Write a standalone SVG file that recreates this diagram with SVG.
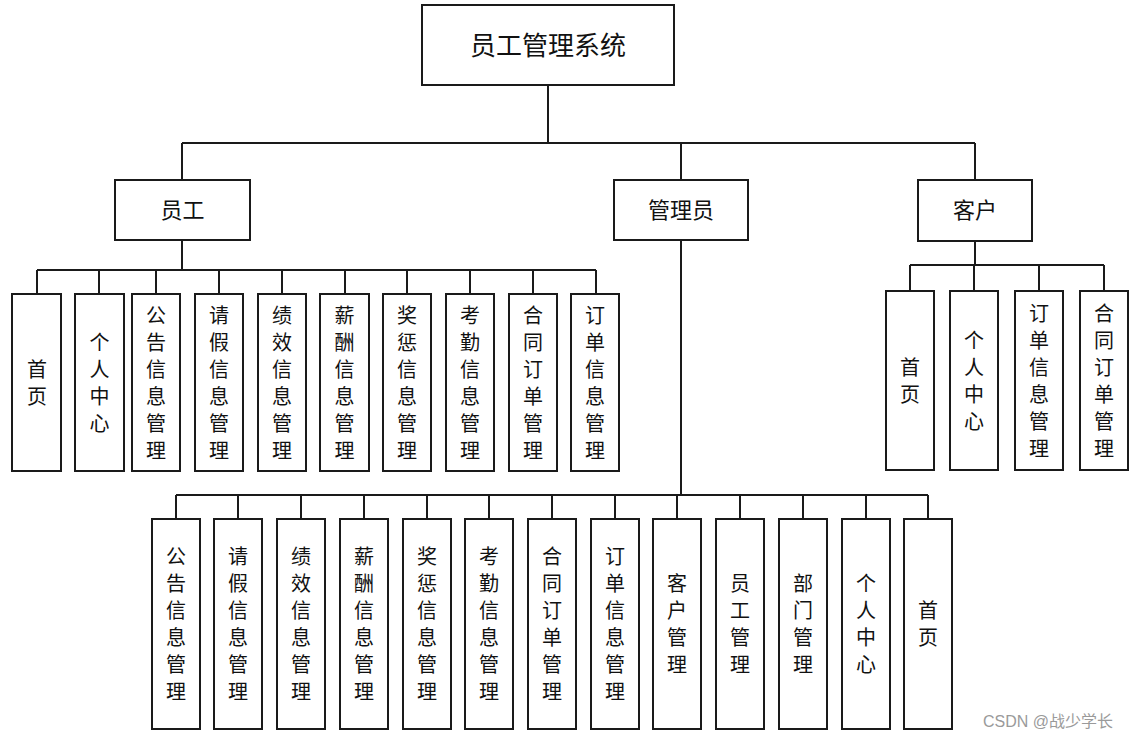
<svg xmlns="http://www.w3.org/2000/svg" width="1135" height="738" viewBox="0 0 1135 738">
<style>
  .box { fill: #ffffff; stroke: #1a1a1a; stroke-width: 2; }
  .conn { fill: none; stroke: #1a1a1a; stroke-width: 2; }
  text { font-family: "Noto Sans CJK SC", "Noto Sans", sans-serif; fill: #111111; text-anchor: middle; }
  .t0 { font-size: 26px; }
  .t1 { font-size: 22px; }
  .leaf { font-size: 20px; }
  .wm { font-family: "Liberation Sans", "Noto Sans CJK SC", sans-serif; font-size: 16px; fill: #9a9a9a; text-anchor: start; }
</style>
<rect width="1135" height="738" fill="#ffffff"/>
<g id="connectors">
  <path class="conn" d="M548 85 V143 M182 143 H975 M182 143 V180 M681 143 V180 M975 143 V180"/>
  <path class="conn" d="M182 240 V270 M37 270 H596 M37 270 V294 M99 270 V294 M156 270 V294 M219 270 V294 M282 270 V294 M345 270 V294 M407 270 V294 M470 270 V294 M533 270 V294 M596 270 V294"/>
  <path class="conn" d="M681 240 V495 M176 495 H928 M176 495 V519 M238 495 V519 M301 495 V519 M364 495 V519 M427 495 V519 M489 495 V519 M552 495 V519 M615 495 V519 M677 495 V519 M740 495 V519 M803 495 V519 M866 495 V519 M928 495 V519"/>
  <path class="conn" d="M975 241 V265 M910 265 H1104 M910 265 V291 M974 265 V291 M1039 265 V291 M1104 265 V291"/>
</g>
<g id="root"><rect class="box" x="422" y="5" width="252" height="80"/><text class="t0" x="548" y="55">员工管理系统</text></g>
<g id="employee"><rect class="box" x="115" y="180" width="135" height="60"/><text class="t1" x="182.5" y="218">员工</text></g>
<g id="admin"><rect class="box" x="614" y="180" width="134" height="60"/><text class="t1" x="681" y="218">管理员</text></g>
<g id="customer"><rect class="box" x="918" y="180" width="114" height="61"/><text class="t1" x="975" y="218">客户</text></g>

<g id="e1"><rect class="box" x="12" y="294" width="49" height="177"/><text class="leaf" x="37" y="376.5">首<tspan x="37" dy="27">页</tspan></text></g>
<g id="e2"><rect class="box" x="75" y="294" width="49" height="177"/><text class="leaf" x="99.5" y="349.5">个<tspan x="99.5" dy="27">人</tspan><tspan x="99.5" dy="27">中</tspan><tspan x="99.5" dy="27">心</tspan></text></g>
<g id="e3"><rect class="box" x="132" y="294" width="48" height="177"/><text class="leaf" x="156" y="322.5">公<tspan x="156" dy="27">告</tspan><tspan x="156" dy="27">信</tspan><tspan x="156" dy="27">息</tspan><tspan x="156" dy="27">管</tspan><tspan x="156" dy="27">理</tspan></text></g>
<g id="e4"><rect class="box" x="195" y="294" width="48" height="177"/><text class="leaf" x="219" y="322.5">请<tspan x="219" dy="27">假</tspan><tspan x="219" dy="27">信</tspan><tspan x="219" dy="27">息</tspan><tspan x="219" dy="27">管</tspan><tspan x="219" dy="27">理</tspan></text></g>
<g id="e5"><rect class="box" x="258" y="294" width="48" height="177"/><text class="leaf" x="282" y="322.5">绩<tspan x="282" dy="27">效</tspan><tspan x="282" dy="27">信</tspan><tspan x="282" dy="27">息</tspan><tspan x="282" dy="27">管</tspan><tspan x="282" dy="27">理</tspan></text></g>
<g id="e6"><rect class="box" x="320" y="294" width="49" height="177"/><text class="leaf" x="344.5" y="322.5">薪<tspan x="344.5" dy="27">酬</tspan><tspan x="344.5" dy="27">信</tspan><tspan x="344.5" dy="27">息</tspan><tspan x="344.5" dy="27">管</tspan><tspan x="344.5" dy="27">理</tspan></text></g>
<g id="e7"><rect class="box" x="383" y="294" width="48" height="177"/><text class="leaf" x="407" y="322.5">奖<tspan x="407" dy="27">惩</tspan><tspan x="407" dy="27">信</tspan><tspan x="407" dy="27">息</tspan><tspan x="407" dy="27">管</tspan><tspan x="407" dy="27">理</tspan></text></g>
<g id="e8"><rect class="box" x="446" y="294" width="48" height="177"/><text class="leaf" x="470" y="322.5">考<tspan x="470" dy="27">勤</tspan><tspan x="470" dy="27">信</tspan><tspan x="470" dy="27">息</tspan><tspan x="470" dy="27">管</tspan><tspan x="470" dy="27">理</tspan></text></g>
<g id="e9"><rect class="box" x="509" y="294" width="48" height="177"/><text class="leaf" x="533" y="322.5">合<tspan x="533" dy="27">同</tspan><tspan x="533" dy="27">订</tspan><tspan x="533" dy="27">单</tspan><tspan x="533" dy="27">管</tspan><tspan x="533" dy="27">理</tspan></text></g>
<g id="e10"><rect class="box" x="571" y="294" width="48" height="177"/><text class="leaf" x="595" y="322.5">订<tspan x="595" dy="27">单</tspan><tspan x="595" dy="27">信</tspan><tspan x="595" dy="27">息</tspan><tspan x="595" dy="27">管</tspan><tspan x="595" dy="27">理</tspan></text></g>

<g id="c1"><rect class="box" x="886" y="291" width="48" height="179"/><text class="leaf" x="910" y="374.5">首<tspan x="910" dy="27">页</tspan></text></g>
<g id="c2"><rect class="box" x="950" y="291" width="48" height="179"/><text class="leaf" x="974" y="347.5">个<tspan x="974" dy="27">人</tspan><tspan x="974" dy="27">中</tspan><tspan x="974" dy="27">心</tspan></text></g>
<g id="c3"><rect class="box" x="1015" y="291" width="48" height="179"/><text class="leaf" x="1039" y="320.5">订<tspan x="1039" dy="27">单</tspan><tspan x="1039" dy="27">信</tspan><tspan x="1039" dy="27">息</tspan><tspan x="1039" dy="27">管</tspan><tspan x="1039" dy="27">理</tspan></text></g>
<g id="c4"><rect class="box" x="1080" y="291" width="48" height="179"/><text class="leaf" x="1104" y="320.5">合<tspan x="1104" dy="27">同</tspan><tspan x="1104" dy="27">订</tspan><tspan x="1104" dy="27">单</tspan><tspan x="1104" dy="27">管</tspan><tspan x="1104" dy="27">理</tspan></text></g>

<g id="a1"><rect class="box" x="152" y="519" width="48" height="210"/><text class="leaf" x="176" y="564">公<tspan x="176" dy="27">告</tspan><tspan x="176" dy="27">信</tspan><tspan x="176" dy="27">息</tspan><tspan x="176" dy="27">管</tspan><tspan x="176" dy="27">理</tspan></text></g>
<g id="a2"><rect class="box" x="214" y="519" width="48" height="210"/><text class="leaf" x="238" y="564">请<tspan x="238" dy="27">假</tspan><tspan x="238" dy="27">信</tspan><tspan x="238" dy="27">息</tspan><tspan x="238" dy="27">管</tspan><tspan x="238" dy="27">理</tspan></text></g>
<g id="a3"><rect class="box" x="277" y="519" width="48" height="210"/><text class="leaf" x="301" y="564">绩<tspan x="301" dy="27">效</tspan><tspan x="301" dy="27">信</tspan><tspan x="301" dy="27">息</tspan><tspan x="301" dy="27">管</tspan><tspan x="301" dy="27">理</tspan></text></g>
<g id="a4"><rect class="box" x="340" y="519" width="48" height="210"/><text class="leaf" x="364" y="564">薪<tspan x="364" dy="27">酬</tspan><tspan x="364" dy="27">信</tspan><tspan x="364" dy="27">息</tspan><tspan x="364" dy="27">管</tspan><tspan x="364" dy="27">理</tspan></text></g>
<g id="a5"><rect class="box" x="403" y="519" width="48" height="210"/><text class="leaf" x="427" y="564">奖<tspan x="427" dy="27">惩</tspan><tspan x="427" dy="27">信</tspan><tspan x="427" dy="27">息</tspan><tspan x="427" dy="27">管</tspan><tspan x="427" dy="27">理</tspan></text></g>
<g id="a6"><rect class="box" x="465" y="519" width="48" height="210"/><text class="leaf" x="489" y="564">考<tspan x="489" dy="27">勤</tspan><tspan x="489" dy="27">信</tspan><tspan x="489" dy="27">息</tspan><tspan x="489" dy="27">管</tspan><tspan x="489" dy="27">理</tspan></text></g>
<g id="a7"><rect class="box" x="528" y="519" width="48" height="210"/><text class="leaf" x="552" y="564">合<tspan x="552" dy="27">同</tspan><tspan x="552" dy="27">订</tspan><tspan x="552" dy="27">单</tspan><tspan x="552" dy="27">管</tspan><tspan x="552" dy="27">理</tspan></text></g>
<g id="a8"><rect class="box" x="591" y="519" width="48" height="210"/><text class="leaf" x="615" y="564">订<tspan x="615" dy="27">单</tspan><tspan x="615" dy="27">信</tspan><tspan x="615" dy="27">息</tspan><tspan x="615" dy="27">管</tspan><tspan x="615" dy="27">理</tspan></text></g>
<g id="a9"><rect class="box" x="653" y="519" width="48" height="210"/><text class="leaf" x="677" y="591">客<tspan x="677" dy="27">户</tspan><tspan x="677" dy="27">管</tspan><tspan x="677" dy="27">理</tspan></text></g>
<g id="a10"><rect class="box" x="716" y="519" width="48" height="210"/><text class="leaf" x="740" y="591">员<tspan x="740" dy="27">工</tspan><tspan x="740" dy="27">管</tspan><tspan x="740" dy="27">理</tspan></text></g>
<g id="a11"><rect class="box" x="779" y="519" width="48" height="210"/><text class="leaf" x="803" y="591">部<tspan x="803" dy="27">门</tspan><tspan x="803" dy="27">管</tspan><tspan x="803" dy="27">理</tspan></text></g>
<g id="a12"><rect class="box" x="842" y="519" width="48" height="210"/><text class="leaf" x="866" y="591">个<tspan x="866" dy="27">人</tspan><tspan x="866" dy="27">中</tspan><tspan x="866" dy="27">心</tspan></text></g>
<g id="a13"><rect class="box" x="904" y="519" width="48" height="210"/><text class="leaf" x="928" y="618">首<tspan x="928" dy="27">页</tspan></text></g>

<text class="wm" x="983" y="727">CSDN @战少学长</text>
</svg>
